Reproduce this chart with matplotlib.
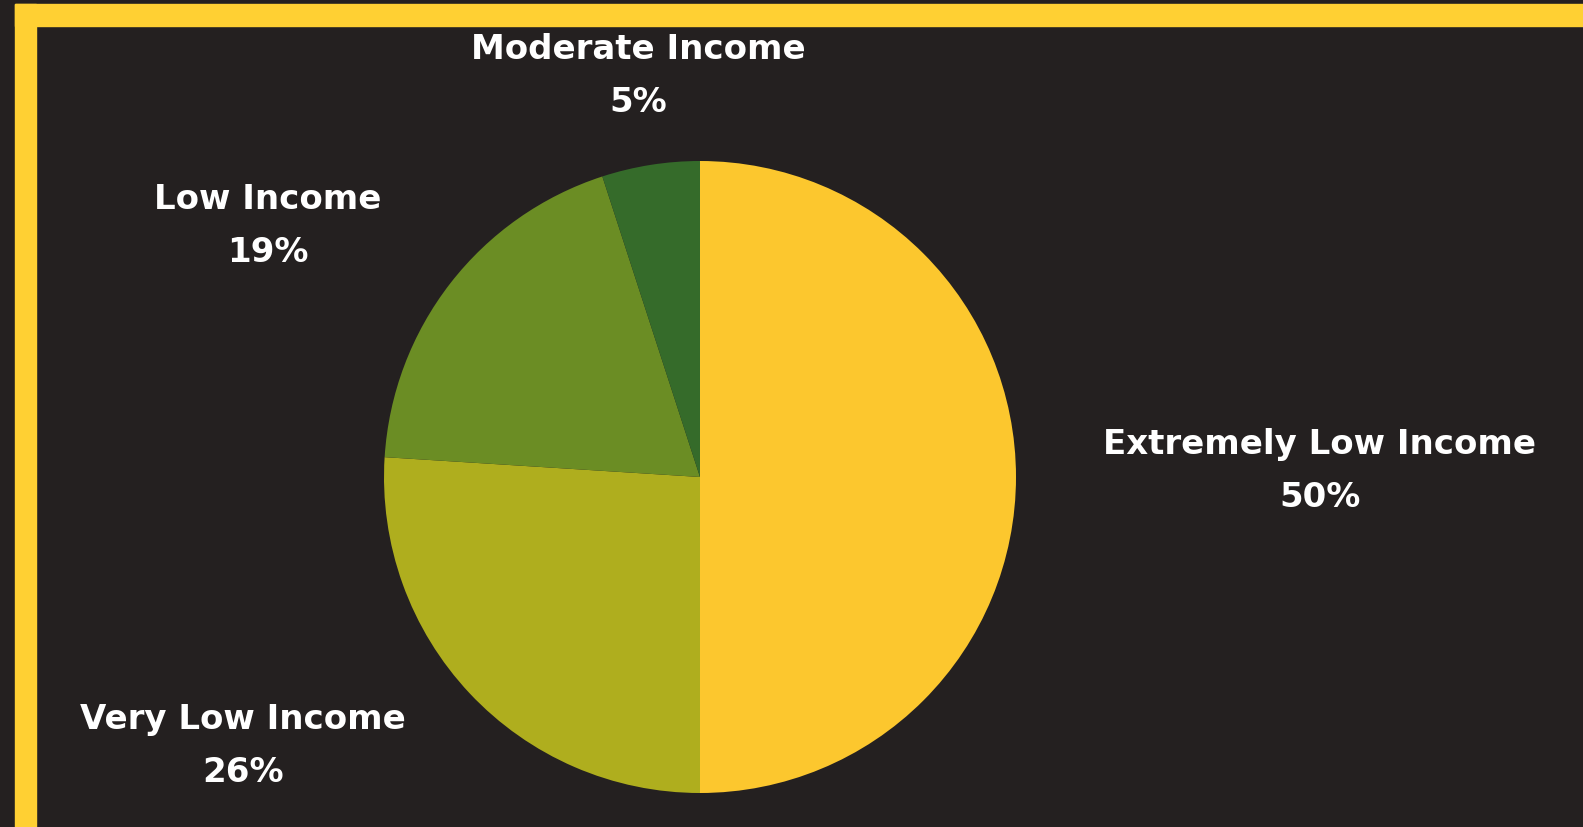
import matplotlib.pyplot as plt
from matplotlib.patches import Rectangle

# Income category shares
categories = ["Extremely Low Income", "Very Low Income", "Low Income", "Moderate Income"]
shares = [50, 26, 19, 5]
colors = ["#FCC72E", "#AFAE1E", "#6B8D24", "#356B2A"]

# label anchor positions (pixel coords, y up) for each category
label_pos = [(1320, 356), (243, 81), (268, 601), (638, 751)]

bg = "#242020"
plt.rcParams["font.family"] = ["DejaVu Sans"]

fig = plt.figure(figsize=(15.83, 8.27), dpi=100, facecolor=bg)
ax = fig.add_axes([0, 0, 1, 1])
ax.set_facecolor(bg)

# yellow frame on top and left
ax.add_patch(Rectangle((15, 801), 1583, 22, color="#FFD033", zorder=1))
ax.add_patch(Rectangle((15, -10), 21, 833, color="#FFD033", zorder=1))

ax.pie(shares, colors=colors, startangle=90, counterclock=False,
       center=(700, 350), radius=316, frame=True,
       wedgeprops=dict(linewidth=0))
ax.set_xlim(0, 1583)
ax.set_ylim(0, 827)
ax.set_aspect("equal")
ax.axis("off")

for cat, val, (x, y) in zip(categories, shares, label_pos):
    ax.text(x, y, f"{cat}\n{val}%", ha="center", va="center",
            color="white", fontsize=24.5, fontweight="bold",
            linespacing=1.78, zorder=3)

plt.savefig("out.png", dpi=100, facecolor=bg)
